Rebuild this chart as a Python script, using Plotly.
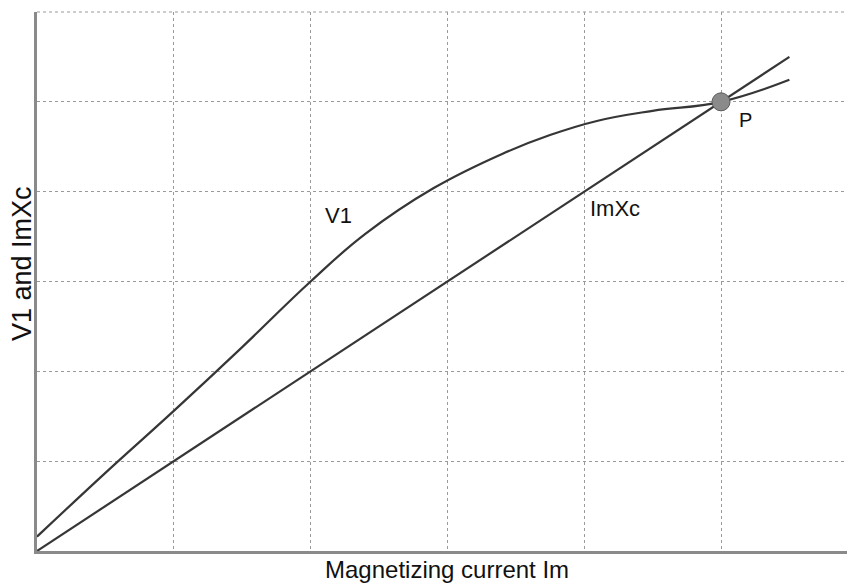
import plotly.graph_objects as go

# Magnetizing current Im (grid units)
im = [0, 0.5, 1, 1.5, 2, 2.4, 2.9, 3.4, 3.75, 4.1, 4.5, 5, 5.5]
# Magnetization curve V1 against Im
v1 = [0.16, 0.87, 1.56, 2.27, 3.0, 3.53, 4.04, 4.42, 4.63, 4.79, 4.9, 5.0, 5.245]
# Capacitor line Im*Xc
im_line = [0, 5.5]
imxc = [0, 5.5]
# Operating point P where the two curves meet
p_x = [5]
p_y = [5]

FONT = "Liberation Sans, Arial, sans-serif"
LINE = "#363636"

fig = go.Figure()
fig.add_trace(go.Scatter(x=im, y=v1, mode="lines", line=dict(color=LINE, width=2.2, shape="spline", smoothing=1.2),
                         hoverinfo="skip", showlegend=False))
fig.add_trace(go.Scatter(x=im_line, y=imxc, mode="lines", line=dict(color=LINE, width=2.2),
                         hoverinfo="skip", showlegend=False))
fig.add_trace(go.Scatter(x=p_x, y=p_y, mode="markers",
                         marker=dict(size=18, color="#8a8a8a", line=dict(color="#5a5a5a", width=1)),
                         hoverinfo="skip", showlegend=False))

labels = [("V1", 2.09, 3.73, 22), ("ImXc", 4.03, 3.81, 22), ("P", 5.12, 4.8, 20)]
for text, x, y, size in labels:
    fig.add_annotation(x=x, y=y, text=text, showarrow=False, xanchor="left", yanchor="middle",
                       font=dict(family=FONT, size=size, color="#111"))

# axis titles placed as paper annotations
fig.add_annotation(xref="paper", yref="paper", x=(447 - 37) / 810, y=-(569 - 551) / 539,
                   text="Magnetizing current Im", showarrow=False, xanchor="center", yanchor="middle",
                   font=dict(family=FONT, size=24, color="#111"))
fig.add_annotation(xref="paper", yref="paper", x=-(37 - 22) / 810, y=(551 - 264) / 539,
                   text="V1 and ImXc", showarrow=False, textangle=-90, xanchor="center", yanchor="middle",
                   font=dict(family=FONT, size=27, color="#111"))

axis_common = dict(showgrid=True, gridcolor="#9a9a9a", gridwidth=1, griddash="dot",
                   zeroline=False, showline=True, linecolor="#8a8a8a", linewidth=2.5,
                   ticks="", showticklabels=False, dtick=1, tick0=0, fixedrange=True)

fig.update_layout(
    width=847, height=585,
    margin=dict(l=37, r=0, t=12, b=34),
    paper_bgcolor="white", plot_bgcolor="white",
    xaxis=dict(range=[0, 810 / 136.8], **axis_common),
    yaxis=dict(range=[0, 6], **axis_common),
)

# dotted border along the top edge
fig.add_shape(type="line", xref="paper", yref="paper", x0=0, x1=1, y0=1, y1=1,
              line=dict(color="#9a9a9a", width=1, dash="dot"))

fig.write_html("out.html")
